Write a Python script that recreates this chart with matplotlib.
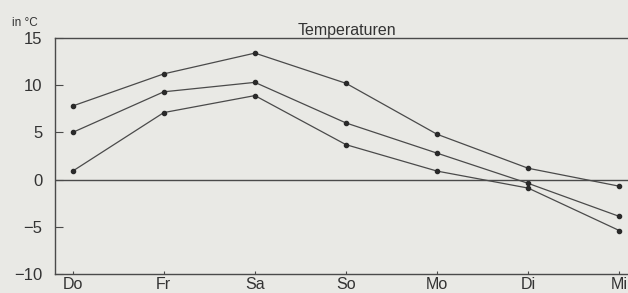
import matplotlib.pyplot as plt

tage = ['Do', 'Fr', 'Sa', 'So', 'Mo', 'Di', 'Mi']
temp_max = [7.8, 11.2, 13.4, 10.2, 4.8, 1.2, -0.7]
temp_mittel = [5.0, 9.3, 10.3, 6.0, 2.8, -0.4, -3.9]
temp_min = [0.9, 7.1, 8.9, 3.7, 0.9, -0.9, -5.4]

plt.rcParams['font.family'] = ['Liberation Sans', 'DejaVu Sans']

bg = '#e9e9e5'
ink = '#4a4a4a'

fig = plt.figure(figsize=(6.28, 2.93), dpi=100, facecolor=bg)
ax = fig.add_axes([55 / 628, 19 / 293, 573 / 628, 236 / 293], facecolor=bg)

x = list(range(len(tage)))
for serie in [temp_max, temp_mittel, temp_min]:
    ax.plot(x, serie, color=ink, linewidth=0.9, marker='o', markersize=3,
            markerfacecolor='#2a2a2a', markeredgecolor='#2a2a2a')

ax.axhline(0, color=ink, linewidth=1.0)

ax.set_xlim(-0.194, 6.095)
ax.set_ylim(-10, 15)
ax.set_yticks([-10, -5, 0, 5, 10, 15])
ax.set_yticklabels(['\u221210', '\u22125', '0', '5', '10', '15'])
ax.set_xticks(x)
ax.set_xticklabels(tage)

ax.tick_params(axis='y', direction='in', length=6, width=0.8, color=ink,
               labelsize=12, pad=9, labelcolor='#333333')
ax.tick_params(axis='x', direction='in', length=2.5, width=0.8, color=ink,
               labelsize=11.5, pad=2.5, labelcolor='#333333')

ax.spines['right'].set_visible(False)
for s in ['left', 'bottom', 'top']:
    ax.spines[s].set_color(ink)
    ax.spines[s].set_linewidth(1.0)

ax.set_title('Temperaturen', fontsize=11.5, color='#333333', pad=2,
             x=(347 - 55) / 573)
fig.text(12 / 628, 1 - 23 / 293, 'in °C', fontsize=8.5, color='#333333',
         va='center', ha='left')

fig.savefig('out.png', dpi=100, facecolor=bg)
